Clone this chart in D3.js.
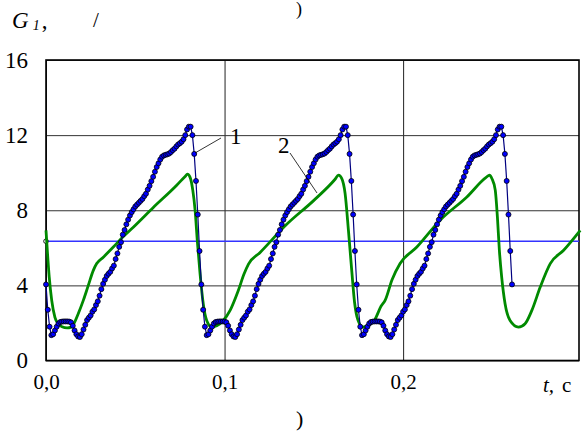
<!DOCTYPE html>
<html>
<head>
<meta charset="utf-8">
<script src="https://cdn.jsdelivr.net/npm/d3@7"></script>
<style>
    body { margin: 0; background: #fff; }
    svg text { font-family: "Times New Roman", Times, "Liberation Serif", "DejaVu Serif", "Noto Serif", serif !important; }
</style>
</head>
<body>
<div id="chart"></div>
<script>
/* global d3 */

// ---- data ----
const xTickValues = [0, 0.1, 0.2],
      xTickLabels = ["0,0", "0,1", "0,2"],
      yTickValues = [0, 4, 8, 12, 16];

// curve 1: one cycle sampled every 1 ms (the three cycles are identical)
const g1Step = 0.001,
      g1CycleStarts = [0, 0.087, 0.174],
      g1Cycle = [4.05, 2.7, 1.8, 1.35, 1.4, 1.6, 1.8, 1.97, 2.05, 2.07,
                 2.08, 2.08, 2.08, 2.07, 2.03, 1.85, 1.6, 1.4, 1.28, 1.25,
                 1.4, 1.65, 1.9, 2.15, 2.28, 2.4, 2.6, 2.72, 2.95, 3.15,
                 3.45, 3.8, 4.08, 4.3, 4.5, 4.62, 4.72, 4.9, 5.05, 5.4,
                 5.7, 6.05, 6.3, 6.7, 6.95, 7.25, 7.5, 7.72, 7.9, 8.05,
                 8.2, 8.3, 8.4, 8.5, 8.6, 8.75, 8.88, 9.1, 9.3, 9.55,
                 9.78, 10.05, 10.3, 10.5, 10.7, 10.85, 10.92, 10.95, 10.98, 11.02,
                 11.1, 11.2, 11.28, 11.4, 11.5, 11.57, 11.65, 11.78, 12.0, 12.3,
                 12.45, 12.45, 12.0, 11.0, 9.56, 7.77, 5.83],
      g1Last = [0.261, 4.05];

// curve 2
const g2Time = [0, 0.0007, 0.0018, 0.0032, 0.005, 0.0069, 0.009, 0.0118, 0.014, 0.0157,
                0.0181, 0.0209, 0.0237, 0.0265, 0.0284, 0.0321, 0.0377, 0.0433, 0.0489, 0.0601,
                0.0732, 0.0779, 0.0792, 0.0807, 0.0822, 0.0835, 0.0848, 0.0863, 0.0881, 0.09,
                0.0928, 0.0956, 0.0993, 0.1031, 0.1077, 0.1109, 0.1134, 0.1199, 0.1348, 0.1497,
                0.1619, 0.1638, 0.1656, 0.1675, 0.1694, 0.1713, 0.1728, 0.1747, 0.1774, 0.1802,
                0.1839, 0.1877, 0.1899, 0.1938, 0.1983, 0.2077, 0.2207, 0.2357, 0.2465, 0.2484,
                0.2497, 0.2516, 0.2528, 0.2539, 0.2552, 0.2571, 0.2599, 0.2646, 0.2683, 0.2721,
                0.2768, 0.2824, 0.2899, 0.2992],
      g2Value = [6.93, 5.9, 4.45, 3.2, 2.3, 1.95, 1.8, 1.74, 1.78, 1.98,
                 2.5, 3.2, 4.0, 4.8, 5.16, 5.5, 6.04, 6.6, 7.1, 8.15,
                 9.33, 9.8, 9.92, 9.75, 9.07, 8.0, 6.3, 4.6, 3.0, 2.13,
                 1.78, 1.85, 2.13, 2.67, 3.73, 4.6, 5.13, 5.75, 7.25, 8.5,
                 9.65, 9.87, 9.7, 8.9, 6.9, 4.7, 3.1, 2.15, 1.78, 1.86,
                 2.13, 2.9, 3.2, 4.3, 5.16, 6.04, 7.47, 8.71, 9.75, 9.87,
                 9.69, 9.07, 7.64, 5.87, 4.44, 3.02, 2.13, 1.78, 1.96, 2.67,
                 3.91, 5.16, 5.87, 6.93];

// horizontal level line
const levelValue = 6.35;

var Chart = (function () {
    "use strict";

    const width = 587,
          height = 441,
          left = 46, right = 579, top = 60, bottom = 360.5;
    var that = {}, svg, x, y;

    function init() {
        svg = d3.select("#chart").append("svg")
            .attr("width", width)
            .attr("height", height);
        x = d3.scaleLinear().domain([0, 0.2985]).range([left, right]);
        y = d3.scaleLinear().domain([0, 16]).range([bottom, top]);
        drawAxes();
        drawLevel();
        drawCurve2();
        drawCurve1();
        drawLabels();
        svg.selectAll("g").attr("font-family", null);
        svg.selectAll("text").attr("fill", "#000");
    }

    function drawAxes() {
        var xAxis = d3.axisBottom(x)
            .tickValues(xTickValues)
            .tickFormat(function (d, i) { return xTickLabels[i]; })
            .tickSize(-(bottom - top))
            .tickPadding(14);
        var gx = svg.append("g")
            .attr("transform", "translate(0," + bottom + ")")
            .call(xAxis);
        gx.select(".domain").remove();
        gx.selectAll("line").attr("stroke", "#222").attr("stroke-width", 1);
        gx.selectAll("text").style("font-size", "21px").attr("dy", "0.71em");

        var yAxis = d3.axisLeft(y)
            .tickValues(yTickValues)
            .tickSize(-(right - left))
            .tickPadding(18);
        var gy = svg.append("g")
            .attr("transform", "translate(" + left + ",0)")
            .call(yAxis);
        gy.select(".domain").remove();
        gy.selectAll("line").attr("stroke", "#333").attr("stroke-width", 1);
        gy.selectAll("text").style("font-size", "23px");

        svg.append("rect")
            .attr("x", left).attr("y", top)
            .attr("width", right - left).attr("height", bottom - top)
            .attr("fill", "none").attr("stroke", "#000").attr("stroke-width", 1.6);
    }

    function drawLevel() {
        svg.append("line")
            .attr("x1", x(0)).attr("x2", right)
            .attr("y1", y(levelValue)).attr("y2", y(levelValue))
            .attr("stroke", "#3333ff").attr("stroke-width", 1.5);
        svg.append("circle")
            .attr("cx", x(0)).attr("cy", y(levelValue)).attr("r", 2.3)
            .attr("fill", "#fff").attr("stroke", "#000").attr("stroke-width", 0.9);
    }

    function drawCurve2() {
        var pts = g2Time.map(function (t, i) { return [t, g2Value[i]]; });
        var line = d3.line()
            .x(function (d) { return x(d[0]); })
            .y(function (d) { return y(d[1]); })
            .curve(d3.curveMonotoneX);
        svg.append("path")
            .datum(pts)
            .attr("d", line)
            .attr("fill", "none")
            .attr("stroke", "#008a00")
            .attr("stroke-width", 2.8)
            .attr("stroke-linejoin", "round");
    }

    function drawCurve1() {
        var pts = [];
        g1CycleStarts.forEach(function (t0) {
            g1Cycle.forEach(function (v, i) { pts.push([t0 + i * g1Step, v]); });
        });
        pts.push(g1Last);
        var line = d3.line()
            .x(function (d) { return x(d[0]); })
            .y(function (d) { return y(d[1]); });
        svg.append("path")
            .datum(pts)
            .attr("d", line)
            .attr("fill", "none")
            .attr("stroke", "#000080")
            .attr("stroke-width", 1.2);
        svg.append("g").selectAll("circle")
            .data(pts)
            .enter().append("circle")
            .attr("cx", function (d) { return x(d[0]); })
            .attr("cy", function (d) { return y(d[1]); })
            .attr("r", 2.5)
            .attr("fill", "#0000ff")
            .attr("stroke", "#000")
            .attr("stroke-width", 0.8);
    }

    function drawLabels() {
        // leader lines for curve numbers
        svg.append("line")
            .attr("x1", 221).attr("y1", 138).attr("x2", 195).attr("y2", 153)
            .attr("stroke", "#000").attr("stroke-width", 0.8);
        svg.append("text").attr("x", 230).attr("y", 144)
            .style("font-size", "23px").text("1");

        svg.append("line")
            .attr("x1", 290).attr("y1", 153).attr("x2", 317).attr("y2", 193)
            .attr("stroke", "#000").attr("stroke-width", 0.8);
        svg.append("text").attr("x", 278).attr("y", 153)
            .style("font-size", "23px").text("2");

        // y title
        var yt = svg.append("text").attr("x", 12).attr("y", 28).style("font-size", "23px");
        yt.append("tspan").style("font-style", "italic").text("G");
        yt.append("tspan").style("font-style", "italic").style("font-size", "14px")
            .attr("dx", 4).attr("dy", 2).text("1");
        yt.append("tspan").attr("dy", -2).attr("dx", 2).text(",");
        svg.append("text").attr("x", 93).attr("y", 27).style("font-size", "21px").text("/");

        // x title
        var xt = svg.append("text").attr("x", 543).attr("y", 392).style("font-size", "21px");
        xt.append("tspan").style("font-style", "italic").text("t,");
        xt.append("tspan").attr("dx", 8).text("c");

        // panel captions
        svg.append("text").attr("x", 296).attr("y", 426).style("font-size", "22px").text(")");
        svg.append("text").attr("x", 296).attr("y", 15).style("font-size", "18px").text(")");
    }

    that.init = init;
    return that;
})();

Chart.init();
</script>
</body>
</html>
